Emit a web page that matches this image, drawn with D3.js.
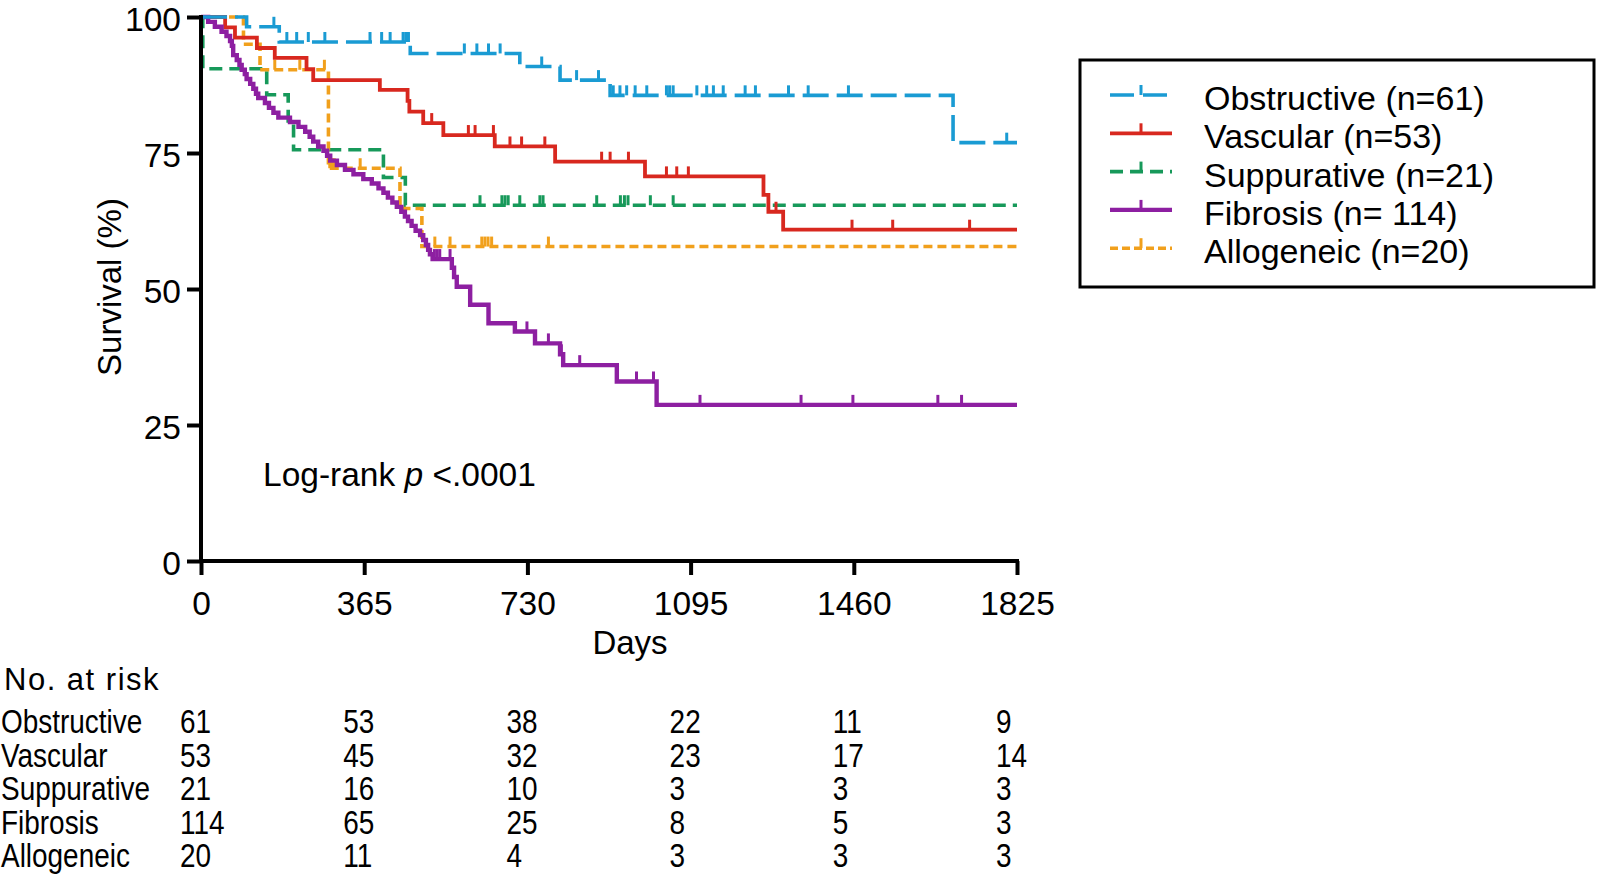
<!DOCTYPE html>
<html><head><meta charset="utf-8">
<script src="https://cdn.jsdelivr.net/npm/d3@7"></script>
<style>
body{margin:0;background:#fff;}
svg{display:block;}
text{font-family:"Liberation Sans", Arial, Helvetica, sans-serif; fill:#000;}
</style></head><body>
<svg id="chart" width="1600" height="876"></svg>
<script>
// ---------------- DATA ----------------
const seriesNames = ["Obstructive","Vascular","Suppurative","Fibrosis","Allogeneic"];
const legendLabels = ["Obstructive (n=61)","Vascular (n=53)","Suppurative (n=21)","Fibrosis (n= 114)","Allogeneic (n=20)"];
const xTicks = [0,365,730,1095,1460,1825];
const yTicks = [0,25,50,75,100];
const followUpEnd = 1825;

const obstructiveDays = [0,102,175,468,713,803,915,1682];
const obstructiveSurv = [100,98.2,95.4,93.3,90.9,88.4,85.6,76.9];
const obstructiveCensor = [163,192,214,240,277,378,404,423,452,458,464,589,617,643,669,762,840,889,922,937,952,971,997,1041,1048,1056,1109,1131,1146,1168,1217,1240,1314,1358,1448,1802];

const vascularDays = [0,54,76,125,165,236,251,400,462,466,497,542,657,792,993,1258,1269,1302];
const vascularSurv = [100,98.1,96.2,94.3,92.5,90.4,88.4,86.6,84.6,82.6,80.5,78.3,76.2,73.4,70.7,67.3,64.2,60.9];
const vascularCensor = [516,598,613,654,691,717,769,896,915,956,1041,1064,1090,1286,1456,1547,1719];

const suppurativeDays = [0,4,147,195,207,408,457];
const suppurativeSurv = [100,90.5,85.7,80.9,75.6,70.5,65.4];
const suppurativeCensor = [624,673,680,687,713,758,765,885,938,947,955,1005,1056];

const fibrosisDays = [0,16,31,46,57,65,69,72,80,86,91,98,102,110,117,123,128,143,152,162,173,199,218,233,243,251,262,274,282,289,304,322,341,363,382,397,408,418,428,438,448,456,463,471,480,490,497,503,508,512,518,561,566,572,602,643,702,747,803,810,930,1019];
const fibrosisSurv = [100,99.1,98.2,97.3,96.5,95.6,94.7,93.0,92.1,91.2,90.3,89.5,88.6,87.7,86.8,85.9,85.1,84.2,83.3,82.4,81.5,80.7,79.8,78.9,78.0,77.1,76.2,75.4,74.5,73.6,72.8,71.9,71.1,70.2,69.4,68.5,67.7,66.8,65.9,65.1,64.2,63.3,62.5,61.6,60.7,59.9,59.0,58.1,57.2,56.4,55.5,53.9,52.2,50.4,47.1,43.7,42.2,40.0,38.0,36.0,33.0,28.7];
const fibrosisCensor = [522,528,534,557,729,777,806,847,974,1012,1116,1342,1458,1648,1701];

const allogeneicDays = [0,95,132,285,445,494];
const allogeneicSurv = [100,95.0,90.3,72.2,64.8,57.8];
const allogeneicCensor = [165,221,276,288,293,298,356,523,557,628,635,642,650,777];

const riskObstructive = [61,53,38,22,11,9];
const riskVascular = [53,45,32,23,17,14];
const riskSuppurative = [21,16,10,3,3,3];
const riskFibrosis = [114,65,25,8,5,3];
const riskAllogeneic = [20,11,4,3,3,3];

// ---------------- STYLE ----------------
const colors = {Obstructive:"#1a9bd3", Vascular:"#d8281f", Suppurative:"#17995a", Fibrosis:"#8d1fa1", Allogeneic:"#f1a01c"};
const dashes = {Obstructive:"26,8", Vascular:null, Suppurative:"13,7", Fibrosis:null, Allogeneic:"9,5"};
const widths = {Obstructive:3.6, Vascular:3.8, Suppurative:3.6, Fibrosis:4.4, Allogeneic:3.6};

const series = [
  {name:"Obstructive", days:obstructiveDays, surv:obstructiveSurv, censor:obstructiveCensor, risk:riskObstructive},
  {name:"Vascular", days:vascularDays, surv:vascularSurv, censor:vascularCensor, risk:riskVascular},
  {name:"Suppurative", days:suppurativeDays, surv:suppurativeSurv, censor:suppurativeCensor, risk:riskSuppurative},
  {name:"Fibrosis", days:fibrosisDays, surv:fibrosisSurv, censor:fibrosisCensor, risk:riskFibrosis},
  {name:"Allogeneic", days:allogeneicDays, surv:allogeneicSurv, censor:allogeneicCensor, risk:riskAllogeneic}
];

const svg = d3.select("#chart");
const x = d3.scaleLinear().domain([0,1825]).range([201,1017]);
const y = d3.scaleLinear().domain([0,100]).range([561,17]);

function survAt(s, t){
  let v = s.surv[0];
  for(let i=0;i<s.days.length;i++){ if(s.days[i] <= t) v = s.surv[i]; }
  return v;
}

// curves (draw order)
const drawOrder = ["Suppurative","Allogeneic","Vascular","Fibrosis","Obstructive"];
const line = d3.line().x(d=>x(d[0])).y(d=>y(d[1])).curve(d3.curveStepAfter);
const plot = svg.append("g");
drawOrder.forEach(n=>{
  const s = series.find(d=>d.name===n);
  const pts = s.days.map((d,i)=>[d,s.surv[i]]);
  pts.push([followUpEnd, s.surv[s.surv.length-1]]);
  plot.append("path").attr("d", line(pts)).attr("fill","none")
    .attr("stroke", colors[n]).attr("stroke-width", widths[n])
    .attr("stroke-dasharray", dashes[n]);
  plot.selectAll(null).data(s.censor).enter().append("line")
    .attr("x1", d=>x(d)).attr("x2", d=>x(d))
    .attr("y1", d=>y(survAt(s,d))).attr("y2", d=>y(survAt(s,d))-10)
    .attr("stroke", colors[n]).attr("stroke-width", 3);
});

// axes
const xAxis = svg.append("g").attr("transform","translate(0,561)")
  .call(d3.axisBottom(x).tickValues(xTicks).tickFormat(d3.format("d")).tickSize(14).tickSizeOuter(0).tickPadding(16));
const yAxis = svg.append("g").attr("transform","translate(201,0)")
  .call(d3.axisLeft(y).tickValues(yTicks).tickFormat(d3.format("d")).tickSize(14).tickSizeOuter(0).tickPadding(6));
[xAxis,yAxis].forEach(a=>{
  a.select(".domain").attr("stroke","#000").attr("stroke-width",4);
  a.selectAll(".tick line").attr("stroke","#000").attr("stroke-width",4);
  a.selectAll(".tick text").attr("font-size",33.5).attr("fill","#000")
    .style("font-family",'"Liberation Sans", Arial, sans-serif');
});
yAxis.selectAll(".tick text").attr("dy","0.4em");
yAxis.select(".domain").attr("d","M0,15V563");
xAxis.select(".domain").attr("d","M199,0H1019");

svg.append("text").attr("x",630).attr("y",654).attr("text-anchor","middle")
  .attr("font-size",33).text("Days");
svg.append("text").attr("transform","translate(121,287) rotate(-90)").attr("text-anchor","middle")
  .attr("font-size",33).text("Survival (%)");

const lr = svg.append("text").attr("x",263).attr("y",486).attr("font-size",33.5);
lr.append("tspan").text("Log-rank ");
lr.append("tspan").attr("font-style","italic").text("p");
lr.append("tspan").text(" <.0001");

// legend
const lg = svg.append("g");
lg.append("rect").attr("x",1080).attr("y",60).attr("width",514).attr("height",227)
  .attr("fill","#fff").attr("stroke","#000").attr("stroke-width",3);
series.forEach((s,i)=>{
  const yy = 95 + i*38.3;
  lg.append("line").attr("x1",1110).attr("x2",1172).attr("y1",yy).attr("y2",yy)
    .attr("stroke",colors[s.name]).attr("stroke-width",widths[s.name])
    .attr("stroke-dasharray", s.name==="Obstructive" ? "24,9" : s.name==="Suppurative" ? "13,7" : s.name==="Allogeneic" ? "8,4" : null);
  lg.append("line").attr("x1",1141).attr("x2",1141).attr("y1",yy).attr("y2",yy-10)
    .attr("stroke",colors[s.name]).attr("stroke-width",3);
  lg.append("text").attr("x",1204).attr("y",yy+15).attr("font-size",34).text(legendLabels[i]);
});

// risk table (condensed type, as in the reference)
const tb = svg.append("g");
tb.append("text").attr("x",4).attr("y",690).attr("font-size",31).attr("letter-spacing",1.5).text("No. at risk");
series.forEach((s,i)=>{
  const yy = 733 + i*33.6;
  tb.append("text").attr("transform",`translate(1,${yy}) scale(0.86,1)`).attr("font-size",32.5).text(s.name);
  s.risk.forEach((v,j)=>{
    tb.append("text").attr("transform",`translate(${x(xTicks[j])-21},${yy}) scale(0.86,1)`)
      .attr("font-size",32.5).text(v);
  });
});
</script>
</body></html>
